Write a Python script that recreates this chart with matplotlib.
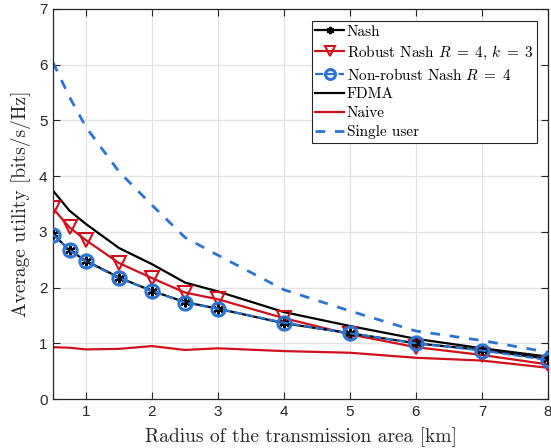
import matplotlib
matplotlib.use("Agg")
import matplotlib.pyplot as plt

x = [0.5, 0.75, 1, 1.5, 2, 2.5, 3, 4, 5, 6, 7, 8]
nash = [2.96, 2.67, 2.48, 2.18, 1.94, 1.74, 1.62, 1.36, 1.18, 1.00, 0.88, 0.72]
robust = [3.42, 3.08, 2.85, 2.44, 2.17, 1.91, 1.79, 1.45, 1.16, 0.93, 0.79, 0.62]
nonrobust = [2.95, 2.67, 2.47, 2.17, 1.94, 1.73, 1.62, 1.37, 1.18, 1.00, 0.87, 0.70]
fdma = [3.74, 3.38, 3.14, 2.71, 2.42, 2.09, 1.93, 1.56, 1.31, 1.08, 0.91, 0.76]
naive = [0.93, 0.92, 0.89, 0.90, 0.95, 0.88, 0.91, 0.86, 0.83, 0.74, 0.69, 0.56]
single = [6.04, 5.42, 4.88, 4.08, 3.48, 2.90, 2.58, 1.96, 1.58, 1.22, 1.05, 0.84]

labels = ['Nash', r'Robust Nash $R\;=\;4$, $k\;=\;3$', r'Non-robust Nash $R\;=\;4$',
          'FDMA', 'Naive', 'Single user']
xticks = [1, 2, 3, 4, 5, 6, 7, 8]
yticks = [0, 1, 2, 3, 4, 5, 6, 7]

RED = '#D0101C'
BLUE = '#2A74D4'

plt.rcParams['mathtext.fontset'] = 'cm'
plt.rcParams['axes.unicode_minus'] = False

fig = plt.figure(figsize=(5.51, 4.48), dpi=100)
ax = fig.add_axes([53/551, 1-399/448, 495/551, 390/448])

ax.plot(x, nash, '-', color='black', lw=1.6, marker=(6, 2, 0), ms=7, mec='black', mew=1.6, label=labels[0], zorder=4)
ax.plot(x, robust, '-', color=RED, lw=1.6, marker='v', ms=10, mfc='none', mec=RED, mew=1.5, label=labels[1], zorder=3)
ax.plot(x, nonrobust, '--', color=BLUE, lw=1.6, marker='o', ms=9.5, mfc='none', mec=BLUE, mew=2.2, label=labels[2], zorder=5)
ax.plot(x, fdma, '-', color='black', lw=1.6, label=labels[3], zorder=2)
ax.plot(x, naive, '-', color=RED, lw=1.6, label=labels[4], zorder=2)
ax.plot(x, single, '--', color=BLUE, lw=2.0, dashes=(3.5, 3.5), label=labels[5], zorder=2)

ax.set_xlim(0.5, 8)
ax.set_ylim(0, 7)
ax.set_xticks(xticks)
ax.set_yticks(yticks)
ax.set_xticklabels([str(v) for v in xticks], fontsize=11, family='Liberation Sans', color='#262626')
ax.set_yticklabels([str(v) for v in yticks], fontsize=11, family='Liberation Sans', color='#262626')
ax.tick_params(direction='in', top=True, right=True, length=5, width=0.8, color='#262626', pad=4)
ax.grid(True, color='#E3E3E3', lw=0.9)
ax.set_axisbelow(True)
for s in ax.spines.values():
    s.set_color('#262626')
    s.set_linewidth(0.9)

ax.set_xlabel('Radius of the transmission area [km]', family='cmr10', fontsize=14, color='#262626', labelpad=6)
ax.set_ylabel('Average utility [bits/s/Hz]', family='cmr10', fontsize=14, color='#262626', labelpad=6)

leg = ax.legend(loc='upper right', bbox_to_anchor=((537 - 53) / 495, 1 - 12 / 390),
                prop={'family': 'cmr10', 'size': 11}, fancybox=False, framealpha=1,
                edgecolor='#262626', handlelength=1.9, handletextpad=0.15, borderpad=0.25,
                labelspacing=0.33, borderaxespad=0, markerscale=0.75)
leg.get_frame().set_linewidth(0.8)

fig.savefig('out.png', dpi=100)
